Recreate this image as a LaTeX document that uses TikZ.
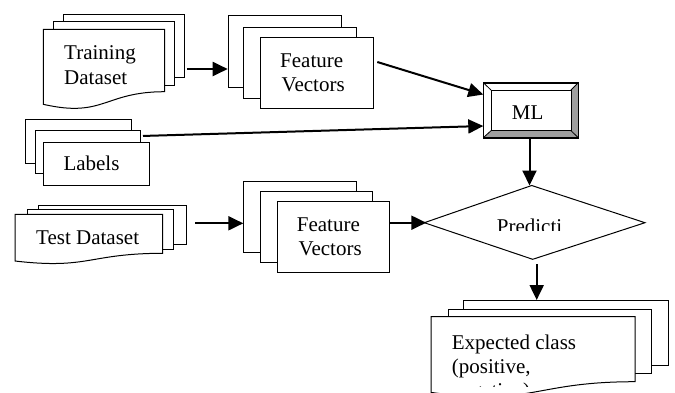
\documentclass[tikz,border=0pt]{standalone}
\usepackage{fontspec}
\setmainfont{Liberation Serif}
\usetikzlibrary{arrows.meta}
\begin{document}
\begin{tikzpicture}[x=1pt,y=-1pt,
  box/.style={draw=black,fill=white,line width=1pt,inner sep=0pt,anchor=north west},
  sheet/.style={draw=black,fill=white,line width=1pt},
  conn/.style={line width=2pt,-{Triangle[length=15pt,width=14pt]}},
  lbl/.style={inner sep=0pt,font=\fontsize{21}{25}\selectfont,anchor=base west}]
\useasboundingbox (0,0) rectangle (675,392);
\clip (0,0) rectangle (675,392);

% Training Dataset
\node[box,minimum width=121.6pt,minimum height=63pt] (trainback) at (62.7,13.7) {};
\node[box,minimum width=121.3pt,minimum height=63.7pt] (trainmid) at (52.7,21.3) {};
\draw[sheet] (43.3,29.3) -- (164.7,29.3) -- (164.7,91.7)
  .. controls (104,91.7) and (104,118.2) .. (43.3,104.3) -- cycle;
\node[lbl] (train1) at (64,59) {Training};
\node[lbl] (train2) at (64,84) {Dataset};

% Feature Vectors 1
\node[box,minimum width=113pt,minimum height=72.3pt] (fvaback) at (227.7,15) {};
\node[box,minimum width=113pt,minimum height=71.6pt] (fvamid) at (243.3,26.7) {};
\node[box,minimum width=113.3pt,minimum height=71.6pt] (fvafront) at (260,36.7) {};
\node[lbl] (fva1) at (280,67) {Feature};
\node[lbl] (fva2) at (281.5,91.5) {Vectors};

% ML
\node[box,minimum width=95pt,minimum height=55pt] (ml) at (483.3,82.7) {};
\fill[gray!75] (578.3,82.7) -- (571,90) -- (571,130.7) -- (491,130.7) -- (483.3,137.7) -- (578.3,137.7) -- cycle;
\draw[line width=1pt] (483.3,82.7) rectangle (578.3,137.7);
\draw[line width=1pt] (491,90) rectangle (571,130.7);
\draw[line width=0.8pt] (483.3,82.7) -- (491,90) (578.3,82.7) -- (571,90)
  (483.3,137.7) -- (491,130.7) (578.3,137.7) -- (571,130.7);
\node[lbl] (mltxt) at (511.7,119) {ML};

% Labels
\node[box,minimum width=106pt,minimum height=43.7pt] (labback) at (24.7,119) {};
\node[box,minimum width=105.6pt,minimum height=43.6pt] (labmid) at (34.7,129.7) {};
\node[box,minimum width=106.3pt,minimum height=43.3pt] (labfront) at (42.7,141.7) {};
\node[lbl] (labtxt) at (63.3,170.5) {Labels};

% Test Dataset
\node[box,minimum width=147.7pt,minimum height=39.3pt] (testback) at (38.3,204.7) {};
\node[box,minimum width=146pt,minimum height=39.7pt] (testmid) at (27.3,209.3) {};
\draw[sheet] (15,214.3) -- (162.7,214.3) -- (162.7,253.3)
  .. controls (88.85,253.3) and (88.85,269.65) .. (15,261) -- cycle;
\node[lbl] (testtxt) at (36,244.5) {Test Dataset};

% Feature Vectors 2
\node[box,minimum width=113pt,minimum height=71pt] (fvbback) at (243.3,180.7) {};
\node[box,minimum width=112.3pt,minimum height=70.7pt] (fvbmid) at (260,191) {};
\node[box,minimum width=112.6pt,minimum height=71pt] (fvbfront) at (276.7,200.7) {};
\node[lbl] (fvb1) at (296.7,231) {Feature};
\node[lbl] (fvb2) at (298.5,255.5) {Vectors};

% Prediction diamond
\coordinate (dT) at (531.7,185.5);
\coordinate (dR) at (645,222.7);
\coordinate (dB) at (532.7,259.3);
\coordinate (dL) at (424.3,222.7);
\draw[sheet] (dT) -- (dR) -- (dB) -- (dL) -- cycle;
\begin{scope}
  \clip (480,200) rectangle (590,230.5);
  \node[lbl] (predtxt) at (496.7,233) {Predicti};
\end{scope}

% Expected class
\node[box,minimum width=205pt,minimum height=65pt] (expback) at (463.3,300) {};
\node[box,minimum width=203.3pt,minimum height=64.6pt] (expmid) at (447.7,308.7) {};
\draw[sheet] (431,316.7) -- (635,316.7) -- (635,381.7)
  .. controls (533,381.7) and (533,406.4) .. (431,392.4) -- cycle;
\node[lbl] (exp1) at (451.7,349) {Expected class};
\node[lbl] (exp2) at (451.7,373) {(positive,};
\begin{scope}
  \clip (440,370) rectangle (600,386);
  \node[lbl] (exp3) at (451.7,397) {negative)};
\end{scope}

% connectors
\coordinate (yA) at (0,69);
\coordinate (yB) at (0,136);
\coordinate (yC) at (0,223.3);
\coordinate (fvaout) at (377.3,62);
\coordinate (mlinA) at (483.3,94.5);
\coordinate (mlinB) at (483.3,126);
\coordinate (fvbout) at (390,222.7);
\coordinate (dout) at (536.7,264);
\draw[conn,shorten <=1.5pt] (trainback.east |- yA) -- (fvaback.west |- yA);
\draw[conn] (fvaout) -- (mlinA);
\draw[conn,shorten <=1.7pt] (labmid.east |- yB) -- (mlinB);
\draw[conn] (529.5,137.7) coordinate (mlout) -- (mlout |- dT);
\draw[conn,shorten <=8pt] (testback.east |- yC) -- (fvbback.west |- yC);
\draw[conn] (fvbout) -- ([xshift=2pt]dL);
\draw[conn] (dout) -- (dout |- expback.north);
\end{tikzpicture}
\end{document}
